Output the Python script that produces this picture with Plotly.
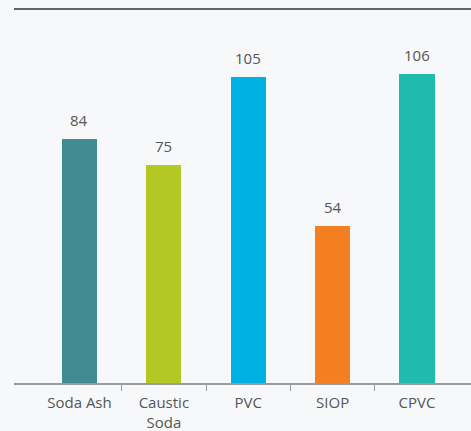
import plotly.graph_objects as go

categories = ["Soda Ash", "Caustic<br>Soda", "PVC", "SIOP", "CPVC"]
values = [84, 75, 105, 54, 106]
bar_colors = ["#438b93", "#b3c725", "#00b2e3", "#f47f20", "#1fbbac"]

BG = "#f7f8f9"
TEXT = "#555555"
FONT = "Open Sans"

xs = list(range(len(categories)))

fig = go.Figure()
fig.add_trace(go.Bar(
    x=xs, y=values,
    marker=dict(color=bar_colors, line=dict(width=0)),
    width=0.415,
    hoverinfo="skip",
))

# value labels above bars
for x, v in zip(xs, values):
    fig.add_annotation(
        x=x, y=v, text=str(v), showarrow=False,
        yanchor="bottom", yshift=7,
        font=dict(family=FONT, size=15, color=TEXT),
    )

# dark rule along the top
fig.add_shape(
    type="line", xref="paper", yref="paper",
    x0=0, x1=1, y0=1, y1=1,
    line=dict(color="#333333", width=1.5),
)

fig.update_layout(
    width=471, height=431,
    paper_bgcolor=BG, plot_bgcolor=BG,
    margin=dict(l=14, r=0, t=9, b=48),
    showlegend=False,
    bargap=0,
    font=dict(family=FONT, size=15, color=TEXT),
    xaxis=dict(
        range=[-0.776, 4.64],
        tickvals=xs, ticktext=categories,
        ticks="", showgrid=False, zeroline=False,
        showline=True, linecolor="#9a9a9a", linewidth=2,
        minor=dict(tickvals=[0.5, 1.5, 2.5, 3.5], ticks="outside",
                   ticklen=6, tickcolor="#9a9a9a", tickwidth=1, showgrid=False),
        tickfont=dict(family=FONT, size=15, color=TEXT),
        ticklabelstandoff=5,
    ),
    yaxis=dict(
        range=[0, 128.5], visible=False, showgrid=False, zeroline=False,
    ),
)

fig.write_html(
    "out.html",
    config={"displayModeBar": False},
    post_script="document.body.style.margin='0';document.body.style.overflow='hidden';",
)
